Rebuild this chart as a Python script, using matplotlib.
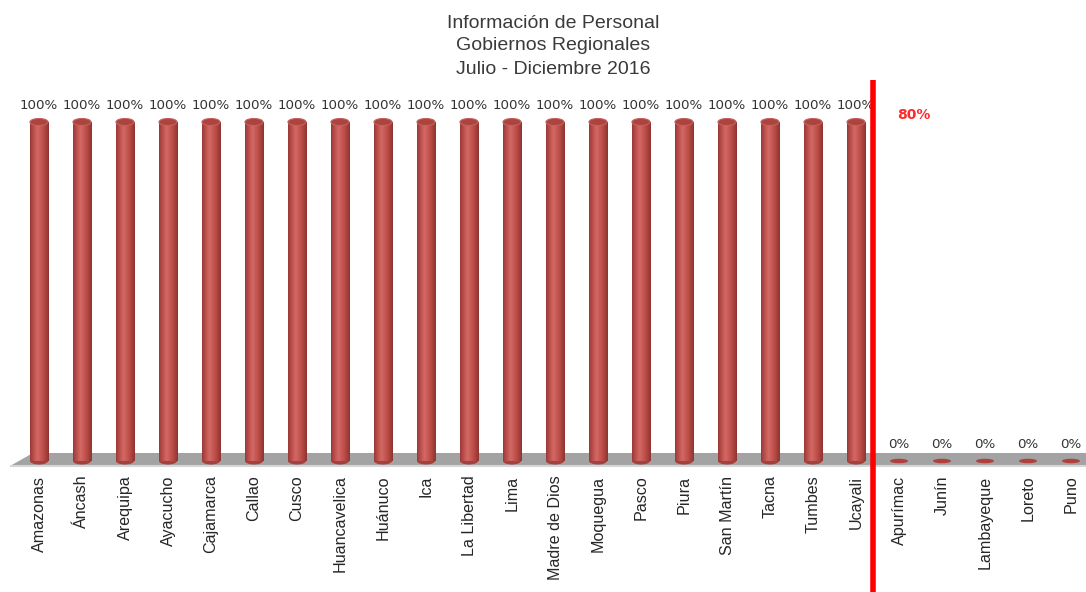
import numpy as np
import matplotlib
matplotlib.use("Agg")
import matplotlib.pyplot as plt
from matplotlib.patches import Ellipse, Polygon
from matplotlib.colors import LinearSegmentedColormap

# ---- data ----
regions = ["Amazonas", "Áncash", "Arequipa", "Ayacucho", "Cajamarca", "Callao",
           "Cusco", "Huancavelica", "Huánuco", "Ica", "La Libertad", "Lima",
           "Madre de Dios", "Moquegua", "Pasco", "Piura", "San Martín", "Tacna",
           "Tumbes", "Ucayali", "Apurímac", "Junín", "Lambayeque", "Loreto", "Puno"]
values = [1.0] * 20 + [0.0] * 5
value_labels = ["100%"] * 20 + ["0%"] * 5
title_lines = ["Información de Personal", "Gobiernos Regionales", "Julio - Diciembre 2016"]
target_label = "80%"
separator_pos = 19.4

W, H = 1086, 592
fig = plt.figure(figsize=(W / 100, H / 100), dpi=100)
ax_left, ax_right, ax_top, ax_bottom = 10, 1086, 80, 470
ax = fig.add_axes([ax_left / W, (H - ax_bottom) / H, (ax_right - ax_left) / W, (ax_bottom - ax_top) / H])

px_per_unit_x = 43.0
x0_px = 39.0
xmin = -(x0_px - ax_left) / px_per_unit_x
xmax = (ax_right - x0_px) / px_per_unit_x
y0_px = 461.0
px_per_unit_y = 339.0
ymin = (y0_px - ax_bottom) / px_per_unit_y
ymax = (y0_px - ax_top) / px_per_unit_y
ax.set_xlim(xmin, xmax)
ax.set_ylim(ymin, ymax)
for s in ax.spines.values():
    s.set_visible(False)
ax.set_yticks([])

x = np.arange(len(regions))
bw = 0.42
cap_h = 7 / px_per_unit_y

# floor
fl_top = (y0_px - 453) / px_per_unit_y
fl_bot = (y0_px - 466) / px_per_unit_y
floor = Polygon([[xmin, fl_bot], [xmin + 23 / px_per_unit_x, fl_top], [xmax + 1, fl_top], [xmax + 1, fl_bot]],
                closed=True, facecolor="#a3a3a3", edgecolor="none", zorder=1)
ax.add_patch(floor)
ax.plot([xmin, xmax + 1], [fl_bot, fl_bot], color="#d6d6d6", lw=1.5, zorder=1.1, clip_on=True)

# bars with cylinder-like shading
cmap = LinearSegmentedColormap.from_list("cyl", ["#973a37", "#c0504d", "#d26a66", "#c65652", "#b0453f", "#8c3431"])
grad = np.linspace(0, 1, 64).reshape(1, -1)
bars = ax.bar(x, values, width=bw, color="#c0504d", edgecolor="none", zorder=2)
for xi, v, rect in zip(x, values, bars):
    if v > 0:
        im = ax.imshow(grad, extent=[xi - bw / 2, xi + bw / 2, 0, v], aspect="auto", cmap=cmap,
                       zorder=2.1, interpolation="bicubic")
        im.set_clip_path(rect)
        ax.add_patch(Ellipse((xi, 0), bw, cap_h, facecolor="#a3413e", edgecolor="none", zorder=2.0))
        ax.add_patch(Ellipse((xi, v), bw, cap_h, facecolor="#aa4440", edgecolor="#c9605c", lw=0.8, zorder=2.3))
    else:
        ax.add_patch(Ellipse((xi, v), bw, 4.5 / px_per_unit_y, facecolor="#b0403c", edgecolor="none", zorder=2.3))

for xi, v, lab in zip(x, values, value_labels):
    ax.annotate(lab, (xi, v), xytext=(0, 12), textcoords="offset points", ha="center", va="center",
                fontsize=9.6, color="#333333", family="DejaVu Sans")

ax.set_xticks(x)
ax.set_xticklabels(regions, rotation=90, fontsize=11.6, family="Liberation Sans", color="#262626")
ax.tick_params(axis="x", length=0, pad=4)

# separator line and target label
ybot_fig = (y0_px - H) / px_per_unit_y
ax.plot([separator_pos, separator_pos], [ybot_fig, ymax], color="#ff0000", lw=4, clip_on=False, zorder=5,
        solid_capstyle="butt")
ax.text(20.35, (y0_px - 115) / px_per_unit_y, target_label, color="#ff2a2a", fontsize=10, fontweight="bold",
        ha="center", va="center", family="DejaVu Sans")

for line, ypx in zip(title_lines, [23, 46, 69]):
    fig.text(553 / W, 1 - ypx / H, line, ha="center", va="center", fontsize=14,
             family="Liberation Sans", color="#3a3a3a")

fig.savefig("out.png", dpi=100, facecolor="white")
